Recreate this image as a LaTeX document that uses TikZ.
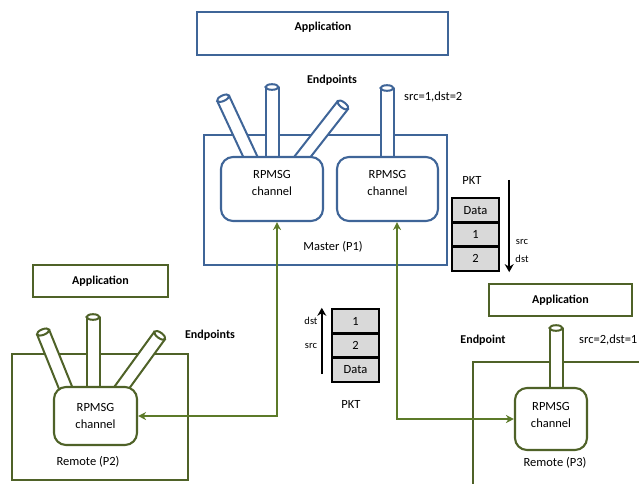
\documentclass[tikz,border=0pt]{standalone}
\usepackage{fontspec}
\setmainfont{Carlito}
\usetikzlibrary{arrows.meta,positioning}

\definecolor{hostblue}{HTML}{3F6598}
\definecolor{hostgreen}{HTML}{4F6228}
\definecolor{linkgreen}{HTML}{5C7A29}
\definecolor{cellgray}{HTML}{D9D9D9}

\tikzset{
  txt/.style={font=\fontsize{12.5}{15}\selectfont, inner sep=1pt},
  boldtxt/.style={font=\fontsize{12}{15}\selectfont\bfseries, inner sep=1pt},
  smalltxt/.style={font=\fontsize{10.5}{12}\selectfont, inner sep=1pt},
  hostbox/.style={draw=#1, line width=2.2pt, inner sep=0pt,
    font=\fontsize{12}{15}\selectfont\bfseries},
  chanbox/.style={draw=#1, line width=2.1pt, fill=white, rounded corners=12pt,
    align=center, inner sep=0pt, font=\fontsize{12.5}{17}\selectfont},
  pktcell/.style={draw=black, line width=2.4pt, fill=cellgray, minimum width=47pt,
    minimum height=24.3pt, inner sep=0pt, font=\fontsize{12.5}{15}\selectfont},
  pktarrow/.style={draw=black, line width=2.4pt, -{Stealth[length=8pt,width=9pt]}},
  link/.style={draw=linkgreen, line width=2.2pt,
    {Stealth[length=8pt,width=8pt]}-{Stealth[length=8pt,width=8pt]}},
  pics/endpoint/.style args={#1/#2}{code={
    \fill[white] (-6.5,0) rectangle (6.5,-#1);
    \draw[#2, line width=2pt] (-6.5,0) -- (-6.5,-#1) (6.5,-#1) -- (6.5,0);
    \draw[#2, line width=2pt, fill=white] (0,-#1) ellipse [x radius=6.5, y radius=2.8];
  }},
}

\begin{document}
\begin{tikzpicture}[x=1pt,y=-1pt]

    \useasboundingbox (0,0) rectangle (639,483);

    % Master side (P1)
    \node[hostbox=hostblue, minimum width=251, minimum height=43] (mapp) at (322.5,33.5) {};
    \node[boldtxt] (mapptxt) at (323,27) {Application};
    \node[hostbox=hostblue, minimum width=243, minimum height=130] (master) at (325.5,200) {};

    % Endpoints of the master
    \pic[rotate=25] at (255.6,168) {endpoint=77/hostblue};
    \pic at (272,168) {endpoint=81/hostblue};
    \pic[rotate=-38] at (293.7,168) {endpoint=80/hostblue};
    \pic at (387,168) {endpoint=80/hostblue};

    \node[chanbox=hostblue, minimum width=102, minimum height=64, text depth=12pt] (mchan1) at (272,189) {RPMSG\\channel};
    \node[chanbox=hostblue, minimum width=101, minimum height=64, text depth=12pt] (mchan2) at (387.5,189) {RPMSG\\channel};

    \node[boldtxt] (mept) at (332,80) {Endpoints};
    \node[txt, anchor=west] (maddr) at (403,97) {src=1,dst=2};
    \node[txt] (mname) at (333,247) {Master (P1)};

    % Remote side (P2)
    \node[hostbox=hostgreen, minimum width=135, minimum height=32] (rapp2) at (100.5,281) {Application};
    \node[hostbox=hostgreen, minimum width=176, minimum height=126] (remote2) at (100,417) {};

    \pic[rotate=22] at (68.9,396) {endpoint=69/hostgreen};
    \pic at (93,396) {endpoint=79/hostgreen};
    \pic[rotate=-36] at (115.7,396) {endpoint=75/hostgreen};

    \node[chanbox=hostgreen, minimum width=83, minimum height=58] (rchan2) at (95.5,416) {RPMSG\\channel};
    \node[boldtxt] (rept2) at (210,335) {Endpoints};
    \node[txt] (rname2) at (88,462) {Remote (P2)};

    % Remote side (P3)
    \node[hostbox=hostgreen, minimum width=143, minimum height=32] (rapp3) at (560.5,300) {Application};
    \node[hostbox=hostgreen, minimum width=200, minimum height=150] (remote3) at (573,437) {};

    \pic at (556,397) {endpoint=69/hostgreen};

    \node[chanbox=hostgreen, minimum width=72, minimum height=62, text depth=8pt] (rchan3) at (551,419) {RPMSG\\channel};
    \node[boldtxt] (rept3) at (483,340) {Endpoint};
    \node[txt, anchor=west] (raddr3) at (578,340) {src=2,dst=1};
    \node[txt] (rname3) at (555,463) {Remote (P3)};

    % Links between the channels
    \draw[link] (rchan2.east) -| ([xshift=5pt]mchan1.south);
    \draw[link] ([xshift=9.5pt]mchan2.south) |- (rchan3.west);

    % Packet sent by the master
    \node[txt] (txpkt) at (472,180) {PKT};
    \foreach \val [count=\i] in {Data,1,2}
        \node[pktcell] (tx\i) at (475.5,185.85+24.3*\i) {\val};
    \draw[pktarrow] ([xshift=9pt,yshift=17pt]tx1.north east) -- ([xshift=9pt]tx3.south east);
    \node[smalltxt] (txsrc) at (522,242) {src};
    \node[smalltxt] (txdst) at (522,259) {dst};

    % Packet sent by the remote
    \node[txt] (rxpkt) at (351,404) {PKT};
    \foreach \val [count=\i] in {1,2,Data}
        \node[pktcell] (rx\i) at (355.5,296.85+24.3*\i) {\val};
    \draw[pktarrow] ([xshift=-9pt,yshift=9pt]rx3.south west) -- ([xshift=-9pt]rx1.north west);
    \node[smalltxt] (rxdst) at (311,321) {dst};
    \node[smalltxt] (rxsrc) at (311,346) {src};

\end{tikzpicture}
\end{document}
